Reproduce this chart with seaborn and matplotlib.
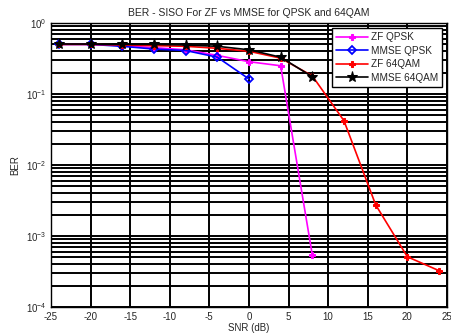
import numpy as np
import pandas as pd
import matplotlib
matplotlib.use("Agg")
import matplotlib.pyplot as plt
import seaborn as sns
from matplotlib.ticker import LogLocator, LogFormatterMathtext, FixedLocator

snr_zf_qpsk = [-24, -20, -16, -12, -8, -4, 0, 4, 8]
ber_zf_qpsk = [0.5, 0.5, 0.48, 0.45, 0.42, 0.35, 0.285, 0.25, 5.4e-4]

snr_mmse_qpsk = [-24, -20, -16, -12, -8, -4, 0]
ber_mmse_qpsk = [0.5, 0.5, 0.47, 0.43, 0.41, 0.33, 0.163]

snr_zf_64 = [-24, -20, -16, -12, -8, -4, 0, 4, 8, 12, 16, 20, 24]
ber_zf_64 = [0.5, 0.5, 0.49, 0.48, 0.47, 0.44, 0.40, 0.32, 0.18, 0.042, 2.75e-3, 5.1e-4, 3.25e-4]

snr_mmse_64 = [-24, -20, -16, -12, -8, -4, 0, 4, 8]
ber_mmse_64 = [0.506, 0.505, 0.50, 0.50, 0.49, 0.47, 0.42, 0.33, 0.175]

labels = ["ZF QPSK", "MMSE QPSK", "ZF 64QAM", "MMSE 64QAM"]

sns.set_style("white")
plt.rcParams['font.family'] = ['Liberation Sans', 'DejaVu Sans']
plt.rcParams['mathtext.fontset'] = 'custom'
plt.rcParams['mathtext.rm'] = 'Liberation Sans'
plt.rcParams['axes.unicode_minus'] = False

fig = plt.figure(figsize=(4.52, 3.36), dpi=100)
ax = fig.add_axes([0.1128, 0.0863, 0.876, 0.8452])

series = [
    (snr_zf_qpsk, ber_zf_qpsk, labels[0], "#ff00ff", dict(marker="P", markersize=5, markerfacecolor="#ff00ff", markeredgecolor="#ff00ff")),
    (snr_mmse_qpsk, ber_mmse_qpsk, labels[1], "#0000ff", dict(marker="D", markersize=4.5, markerfacecolor="none", markeredgecolor="#0000ff", markeredgewidth=1.3)),
    (snr_zf_64, ber_zf_64, labels[2], "#ff0000", dict(marker="P", markersize=5, markerfacecolor="#ff0000", markeredgecolor="#ff0000")),
    (snr_mmse_64, ber_mmse_64, labels[3], "#000000", dict(marker="*", markersize=8, markerfacecolor="#000000", markeredgecolor="#000000")),
]
for x, y, lab, col, mk in series:
    df = pd.DataFrame({"SNR": x, "BER": y})
    sns.lineplot(data=df, x="SNR", y="BER", ax=ax, color=col, label=lab, linewidth=1.2, **mk)

ax.set_yscale("log")
ax.set_xlim(-25, 25)
ax.set_ylim(1e-4, 1)
ax.xaxis.set_major_locator(FixedLocator(np.arange(-25, 26, 5)))
ax.yaxis.set_major_locator(LogLocator(base=10, numticks=10))
ax.yaxis.set_minor_locator(LogLocator(base=10, subs=np.arange(2, 10), numticks=10))
ax.yaxis.set_major_formatter(LogFormatterMathtext())
ax.grid(True, which="major", color="black", linewidth=1.4, linestyle="-")
ax.grid(True, which="minor", axis="y", color="black", linewidth=1.4, linestyle="-")
ax.set_axisbelow(True)
ax.tick_params(axis="both", which="both", direction="in", labelsize=7, length=3, color="black")
for s in ax.spines.values():
    s.set_color("black")
    s.set_linewidth(1.0)
ax.set_xlabel("SNR (dB)", fontsize=7, labelpad=1)
ax.set_ylabel("BER", fontsize=7, labelpad=4)
ax.set_title("BER - SISO For ZF vs MMSE for QPSK and 64QAM", fontsize=7.5, pad=5)

leg = ax.legend(loc="upper right", fontsize=7.2, frameon=True, fancybox=False,
                edgecolor="black", framealpha=1, borderaxespad=0.5, handlelength=3.2,
                labelspacing=0.35, borderpad=0.4, handletextpad=0.3)
leg.get_frame().set_linewidth(1.0)

fig.savefig("out.png", dpi=100)
